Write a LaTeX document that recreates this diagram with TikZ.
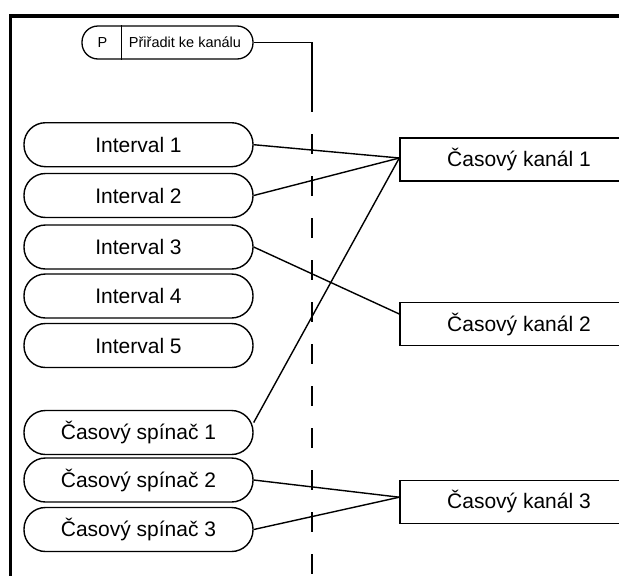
\documentclass[tikz,border=0pt]{standalone}
\usepackage{fontspec}
\setmainfont{Liberation Sans}
\begin{document}
\begin{tikzpicture}[x=1pt,y=-1pt,
  pill/.style={draw, line width=1.4pt, rounded corners=21.5pt, minimum width=229pt, minimum height=44pt, inner sep=0pt, font=\fontsize{21}{25}\selectfont},
  chan/.style={draw, line width=1.4pt, minimum width=238pt, minimum height=43pt, inner sep=0pt, font=\fontsize{21}{25}\selectfont},
  conn/.style={line width=1.4pt},
  small/.style={inner sep=0pt, font=\fontsize{14.5}{17}\selectfont}]
\clip (0,0) rectangle (619,576);
\draw[line width=3.8pt] (10.5,16) rectangle (700,700);
% parameter node
\node[draw, line width=1.3pt, rounded corners=16pt, minimum width=171pt, minimum height=33pt, inner sep=0pt] (p) at (167.5,42.5) {};
\node[small] (pl) at (102.5,42.5) {P};
\node[small] (pt) at (185,42.5) {Přiřadit ke kanálu};
\draw[line width=1.2pt] ([xshift=40pt]p.north west) -- ([xshift=40pt]p.south west);
\coordinate (bend) at (312,112);
\coordinate (dend) at (312,600);
\draw[conn] (p.east) -| (bend);
\draw[conn, dash pattern=on 20pt off 22pt, dash phase=20pt] (bend) -- (dend);
% sources
\node[pill] (i1) at (138.5,144.7) {Interval 1};
\node[pill] (i2) at (138.5,195.5) {Interval 2};
\node[pill] (i3) at (138.5,247) {Interval 3};
\node[pill] (i4) at (138.5,296) {Interval 4};
\node[pill] (i5) at (138.5,345.5) {Interval 5};
\node[pill] (s1) at (138.5,432.5) {Časový spínač 1};
\node[pill] (s2) at (138.5,480) {Časový spínač 2};
\node[pill] (s3) at (138.5,529.5) {Časový spínač 3};
% channels
\node[chan] (k1) at (519,159.5) {Časový kanál 1};
\node[chan] (k2) at (519,324) {Časový kanál 2};
\node[chan] (k3) at (519,501.7) {Časový kanál 3};
% connectors
\draw[conn] (i1.east) -- ([yshift=1.5pt]k1.west);
\draw[conn] (i2.east) -- ([yshift=1.5pt]k1.west);
\draw[conn] ([yshift=10pt]s1.east) -- ([yshift=1.5pt]k1.west);
\draw[conn] (i3.east) -- ([yshift=10pt]k2.west);
\draw[conn] (s2.east) -- ([yshift=4.5pt]k3.west);
\draw[conn] (s3.east) -- ([yshift=4.5pt]k3.west);
\end{tikzpicture}
\end{document}
